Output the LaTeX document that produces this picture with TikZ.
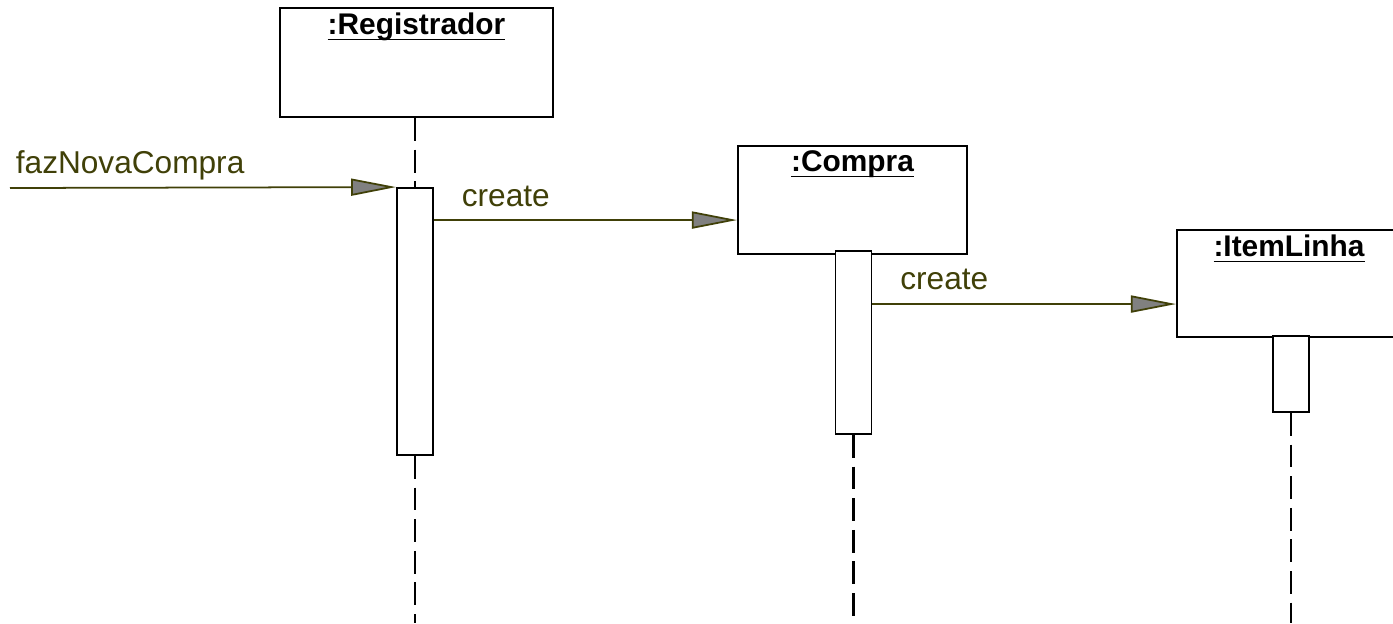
\documentclass[tikz,border=0pt]{standalone}
\usepackage{fontspec}
\setmainfont{Liberation Sans}
\usetikzlibrary{arrows.meta}
\definecolor{msgolive}{RGB}{64,64,8}
\definecolor{tipgray}{RGB}{128,128,128}
\newcommand{\objname}[1]{\underline{\smash{#1}\rule[-1.3pt]{0pt}{1pt}}}

\begin{document}
\begin{tikzpicture}[x=0.02cm,y=-0.02cm,
  objbox/.style={draw, line width=1.2pt, fill=white, minimum width=#1, minimum height=2.16cm, inner sep=0pt},
  actbox/.style={draw, line width=1.1pt, fill=white, minimum width=0.72cm, inner sep=0pt},
  objtitle/.style={anchor=base, font=\fontsize{17}{20}\selectfont\bfseries, inner sep=0pt},
  lifeline/.style={line width=1.4pt, dash pattern=on 13pt off 5pt},
  msg/.style={msgolive, line width=1pt, -{Triangle[length=0.9cm,width=0.34cm,fill=tipgray]}},
  msglabel/.style={msgolive, anchor=base west, font=\fontsize{18}{21}\selectfont, inner sep=0pt}]
\useasboundingbox (0,0) rectangle (1393,623);
% objects
\node[objbox=5.46cm, minimum height=2.18cm] (reg) at (416.5,62.5) {};
\node[objbox=4.58cm] (compra) at (852.5,200) {};
\node[objbox=4.48cm, minimum height=2.14cm] (item) at (1289,283.5) {};
\node[objtitle] (regname) at ([yshift=-0.56cm]reg.north) {\objname{:Registrador}};
\node[objtitle] (compraname) at ([yshift=-0.54cm]compra.north) {\objname{:Compra}};
\node[objtitle] (itemname) at ([yshift=-0.56cm]item.north) {\objname{:ItemLinha}};
% activations
\node[actbox, minimum height=5.34cm] (act1) at (415,321.5) {};
\node[actbox, minimum height=3.66cm] (act2) at (853.5,342.5) {};
\node[actbox, minimum height=1.52cm] (act3) at (1291,374) {};
% lifelines
\coordinate (bottom) at (0,623);
\draw[lifeline] (act1.north |- reg.south) -- (act1.north);
\draw[lifeline] (act1.south) -- (act1.south |- bottom);
\draw[lifeline] (act2.south) -- (act2.south |- bottom);
\draw[lifeline] (act3.south) -- (act3.south |- bottom);
% messages
\coordinate (start) at (10,188);
\draw[msg] (start) -- (act1.north west) node[msglabel, pos=0, xshift=0.1cm, yshift=0.3cm] {fazNovaCompra};
\coordinate (c1) at ([yshift=-0.66cm]act1.north east);
\draw[msg] (c1) -- (c1 -| compra.west) node[msglabel, pos=0, xshift=0.54cm, yshift=0.28cm] {create};
\coordinate (c2) at ([yshift=-1.08cm]act2.north east);
\draw[msg] (c2) -- (c2 -| item.west) node[msglabel, pos=0, xshift=0.54cm, yshift=0.3cm] {create};
\end{tikzpicture}
\end{document}
